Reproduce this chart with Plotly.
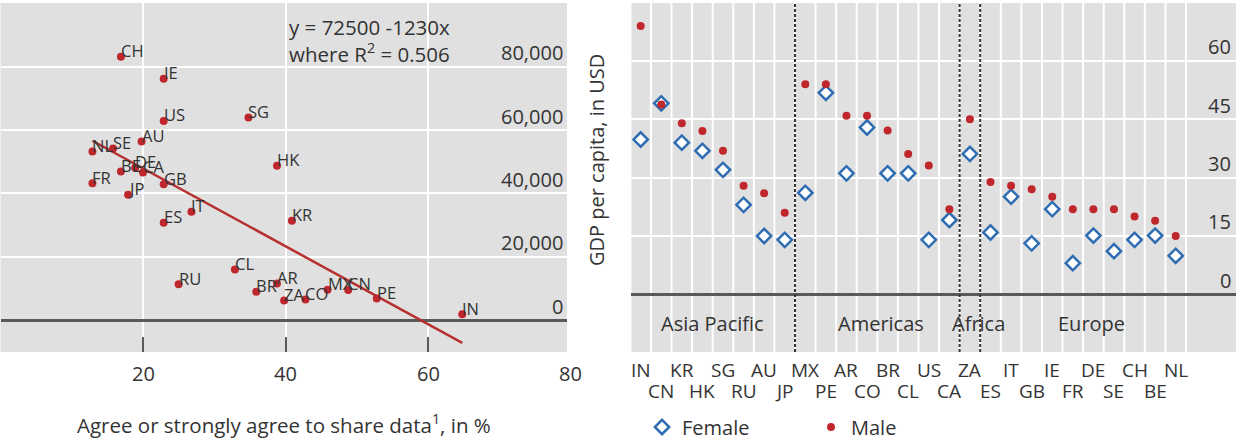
import plotly.graph_objects as go

# ---------------- data: left panel ----------------
l_countries = ["CH", "IE", "US", "SG", "AU", "NL", "SE", "HK", "BE", "DE", "CA", "FR", "GB", "JP",
               "ES", "IT", "KR", "CL", "RU", "AR", "BR", "ZA", "CO", "MX", "CN", "PE", "IN"]
l_share = [16.9, 22.9, 22.9, 34.8, 19.8, 12.9, 15.8, 38.8, 16.9, 18.9, 20.0, 12.9, 22.9, 17.9,
           22.9, 26.8, 40.9, 32.9, 25.0, 38.8, 35.9, 39.8, 42.8, 45.9, 48.8, 52.8, 64.8]
l_gdp = [83200, 76200, 62900, 64000, 56400, 53200, 54200, 48700, 46900, 48100, 46600, 43200, 42900, 39600,
         30700, 34200, 31400, 16000, 11300, 11500, 8900, 6200, 6500, 9600, 9500, 6800, 1800]
reg_intercept = 72500
reg_slope = -1230
reg_r2 = 0.506
l_xticks = [20, 40, 60, 80]
l_yticks = [0, 20000, 40000, 60000, 80000]

# ---------------- data: right panel ----------------
r_countries = ["IN", "CN", "KR", "HK", "SG", "RU", "AU", "JP",
               "MX", "PE", "AR", "CO", "BR", "CL", "US", "CA",
               "ZA",
               "ES", "IT", "GB", "IE", "FR", "DE", "SE", "CH", "BE", "NL"]
r_female = [39.8, 49.1, 39.0, 36.9, 32.0, 23.0, 15.0, 14.0,
            26.1, 51.8, 31.1, 42.9, 31.1, 31.1, 14.0, 19.1,
            36.1,
            15.9, 25.1, 13.1, 21.9, 8.0, 15.1, 11.1, 14.0, 15.1, 9.9]
r_male = [69.0, 48.8, 44.0, 42.0, 36.9, 27.9, 26.0, 21.0,
          54.0, 54.0, 45.9, 45.9, 42.1, 36.1, 33.1, 21.9,
          45.0,
          28.9, 27.9, 27.0, 25.1, 21.9, 21.9, 21.9, 20.0, 18.9, 15.0]
r_yticks = [0, 15, 30, 45, 60]
regions = ["Asia Pacific", "Americas", "Africa", "Europe"]
region_sizes = [8, 8, 1, 10]

# ---------------- styling ----------------
W, H = 1236, 441
FONT = "Open Sans"
TXT = "#333333"
BG = "#e0e0e0"
RED = "#c0272d"
LINE_RED = "#b5302f"
BLUE = "#2f6db3"
AXL = "#5a5a5a"
FS = 20


def pxx(p):
    return p / W


def pxy(p):
    return 1 - p / H


XDOM = [pxx(0.5), pxx(567)]
XRANGE = [0, 79.5]


def lx_paper(v):
    return XDOM[0] + (v - XRANGE[0]) / (XRANGE[1] - XRANGE[0]) * (XDOM[1] - XDOM[0])


fig = go.Figure()

# ---- left panel ----
xmin, xmax = min(l_share), max(l_share)
fig.add_trace(go.Scatter(
    x=[xmin, xmax], y=[reg_intercept + reg_slope * xmin, reg_intercept + reg_slope * xmax],
    mode="lines", line=dict(color=LINE_RED, width=2.5),
    xaxis="x", yaxis="y", showlegend=False, hoverinfo="skip"))
fig.add_trace(go.Scatter(
    x=l_share, y=l_gdp, mode="markers", marker=dict(color=RED, size=8),
    xaxis="x", yaxis="y", showlegend=False, hoverinfo="skip"))

annotations = []
for c, xv, yv in zip(l_countries, l_share, l_gdp):
    annotations.append(dict(x=xv, y=yv, xref="x", yref="y", text=c, showarrow=False,
                            xanchor="left", yanchor="middle", xshift=-2, yshift=6,
                            font=dict(size=16.5, color=TXT)))

# y tick labels (left), above gridlines
for v in l_yticks:
    annotations.append(dict(x=pxx(565), y=v, xref="paper", yref="y", text=f"{v:,}",
                            showarrow=False, xanchor="right", yanchor="middle", yshift=14,
                            font=dict(size=FS, color=TXT)))
# x tick labels (left)
for v in l_xticks:
    annotations.append(dict(x=lx_paper(v), y=pxy(373), xref="paper", yref="paper", text=str(v),
                            showarrow=False, xanchor="center", yanchor="middle",
                            font=dict(size=FS, color=TXT)))
# regression text
annotations.append(dict(
    x=pxx(452), y=pxy(40), xref="paper", yref="paper",
    text=f"y = {reg_intercept} {reg_slope}x<br>where R<sup>2</sup> = {reg_r2}",
    showarrow=False, xanchor="right", yanchor="middle", align="right",
    font=dict(size=20.5, color=TXT)))
# axis titles
annotations.append(dict(x=pxx(284), y=pxy(424), xref="paper", yref="paper",
                        text="Agree or strongly agree to share data<sup>1</sup>, in %",
                        showarrow=False, xanchor="center", yanchor="middle",
                        font=dict(size=20.5, color=TXT)))
annotations.append(dict(x=pxx(596), y=pxy(160), xref="paper", yref="paper",
                        text="GDP per capita, in USD", textangle=-90,
                        showarrow=False, xanchor="center", yanchor="middle",
                        font=dict(size=FS, color=TXT)))

# ---- right panel ----
idx = list(range(len(r_countries)))
fig.add_trace(go.Scatter(
    x=idx, y=r_female, mode="markers", name="Female",
    marker=dict(symbol="diamond", size=11, color="white", line=dict(color=BLUE, width=2.5)),
    xaxis="x2", yaxis="y2", hoverinfo="skip"))
fig.add_trace(go.Scatter(
    x=idx, y=r_male, mode="markers", name="Male",
    marker=dict(symbol="circle", size=8, color=RED),
    xaxis="x2", yaxis="y2", hoverinfo="skip"))

shapes = []
for k in range(len(r_countries) + 1):
    shapes.append(dict(type="line", xref="x2", yref="y2 domain", x0=k - 0.5, x1=k - 0.5,
                       y0=0, y1=1, line=dict(color="white", width=2), layer="below"))
start = 0
for i, (name, n) in enumerate(zip(regions, region_sizes)):
    end = start + n - 1
    if i < len(regions) - 1:
        shapes.append(dict(type="line", xref="x2", yref="y2 domain", x0=end + 0.5, x1=end + 0.5,
                           y0=0, y1=1, line=dict(color="#333333", width=2, dash="3px,2px"),
                           layer="above"))
    shift = [0.0, 0.2, 0.4, 0.4][i]
    annotations.append(dict(x=(start + end) / 2 + shift, y=-7.6, xref="x2", yref="y2",
                            text=name, showarrow=False, xanchor="center", yanchor="middle",
                            font=dict(size=FS, color=TXT)))
    start = end + 1

for i, c in enumerate(r_countries):
    annotations.append(dict(x=i, y=pxy(370 if i % 2 == 0 else 391), xref="x2", yref="paper",
                            text=c, showarrow=False, xanchor="center", yanchor="middle",
                            font=dict(size=19, color=TXT)))
for v in r_yticks:
    annotations.append(dict(x=pxx(1233), y=v, xref="paper", yref="y2", text=str(v),
                            showarrow=False, xanchor="right", yanchor="middle", yshift=14,
                            font=dict(size=FS, color=TXT)))

ydom = [pxy(352), pxy(3)]
fig.update_layout(
    width=W, height=H, margin=dict(l=0, r=0, t=0, b=0, autoexpand=False),
    paper_bgcolor="white", plot_bgcolor=BG,
    font=dict(family=FONT, color=TXT, size=FS),
    xaxis=dict(domain=XDOM, range=XRANGE, tickvals=[0, 20, 40, 60],
               ticks="inside", ticklen=15, tickwidth=2, tickcolor=AXL, showticklabels=False,
               showgrid=True, gridcolor="white", gridwidth=2, zeroline=False, showline=False,
               anchor="y"),
    yaxis=dict(domain=ydom, range=[-10100, 100150], tickvals=l_yticks, showticklabels=False,
               showgrid=True, gridcolor="white", gridwidth=2, zeroline=True,
               zerolinecolor=AXL, zerolinewidth=3, anchor="x"),
    xaxis2=dict(domain=[pxx(631), 1], range=[-0.47, 28.93], showgrid=False, showticklabels=False,
                zeroline=False, showline=False, anchor="y2"),
    yaxis2=dict(domain=ydom, range=[-14.83, 74.9], tickvals=r_yticks, showticklabels=False,
                showgrid=True, gridcolor="white", gridwidth=2, zeroline=True,
                zerolinecolor=AXL, zerolinewidth=3, anchor="x2"),
    showlegend=True,
    legend=dict(orientation="h", x=pxx(642), y=pxy(427), xanchor="left", yanchor="middle",
                font=dict(size=FS, color=TXT), entrywidth=124, entrywidthmode="pixels",
                bgcolor="rgba(0,0,0,0)"),
    annotations=annotations,
    shapes=shapes,
)

fig.write_html("out.html", config={"displayModeBar": False},
               post_script="document.body.style.margin='0';document.body.style.overflow='hidden';")
